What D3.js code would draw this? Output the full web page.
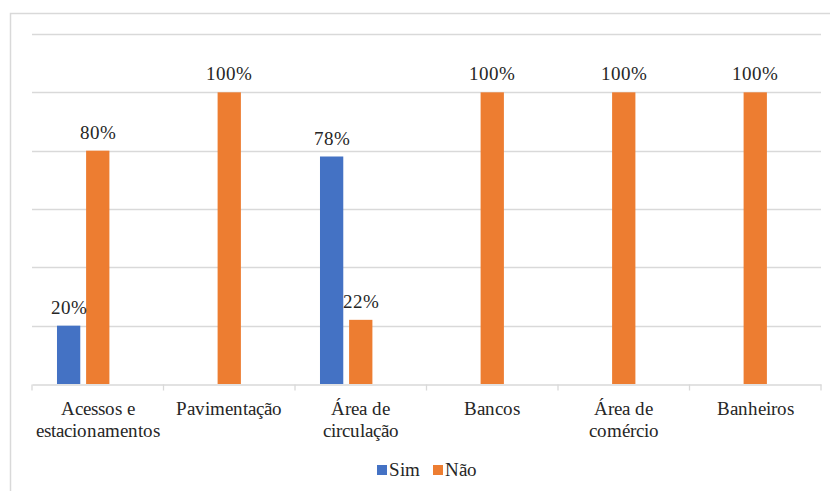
<!DOCTYPE html>
<html>
<head>
<meta charset="utf-8">
<script src="https://cdn.jsdelivr.net/npm/d3@7"></script>
<style>
  @font-face { font-family: "RefSerif"; src: local("Liberation Serif"), local("LiberationSerif"), local("Liberation Serif Regular"), local("LiberationSerif-Regular"); }
</style>
</head>
<body style="margin:0">
<svg id="s" width="830" height="491"></svg>
<script>
const categories = [
  ["Acessos e", "estacionamentos"],
  ["Pavimentação"],
  ["Área de", "circulação"],
  ["Bancos"],
  ["Área de", "comércio"],
  ["Banheiros"]
];
const seriesNames = ["Sim", "Não"];
const simValues = [20, 0, 78, 0, 0, 0];
const naoValues = [80, 100, 22, 100, 100, 100];
const yTicks = [0, 20, 40, 60, 80, 100, 120];
const colors = ["#4472C4", "#ED7D31"];
const FONT = "RefSerif, 'Liberation Serif', serif";
const TXT = "#262626";

const svg = d3.select("#s");
const W = 830, H = 491;
const plot = { left: 32, right: 821, top: 34, bottom: 384 };

// outer border
svg.append("rect")
  .attr("x", 10.5).attr("y", 13.5)
  .attr("width", W).attr("height", H)
  .attr("fill", "none").attr("stroke", "#d9d9d9").attr("stroke-width", 1.5);

const catKeys = categories.map((c, i) => i);
const x0 = d3.scaleBand().domain(catKeys).range([plot.left, plot.right]).padding(0);
const bw = x0.bandwidth();
const x1 = d3.scaleBand().domain(["Sim", "Não", "_"]).range([bw * 0.19, bw * 0.81]).paddingInner(0.2);
const y = d3.scaleLinear().domain([0, 120]).range([plot.bottom, plot.top]);

// gridlines
svg.append("g").selectAll("line")
  .data(yTicks.filter(t => t > 0))
  .join("line")
  .attr("x1", plot.left).attr("x2", plot.right)
  .attr("y1", d => Math.round(y(d)) + 0.5).attr("y2", d => Math.round(y(d)) + 0.5)
  .attr("stroke", "#d9d9d9").attr("stroke-width", 1.3);

// x axis line + separator ticks
const gx = svg.append("g").attr("transform", `translate(0,${plot.bottom + 0.5})`)
  .call(d3.axisBottom(x0).tickSize(0).tickFormat(""));
gx.select(".domain").attr("stroke", "#d9d9d9").attr("stroke-width", 1.3);
gx.selectAll(".tick").remove();
const boundaries = catKeys.map(k => x0(k)).concat([plot.right]);
gx.selectAll("line.sep").data(boundaries).join("line")
  .attr("class", "sep")
  .attr("x1", d => d).attr("x2", d => d)
  .attr("y1", 0).attr("y2", 6)
  .attr("stroke", "#d9d9d9").attr("stroke-width", 1.3);

// bars
const data = [];
catKeys.forEach(i => {
  data.push({ cat: i, s: "Sim", v: simValues[i], c: colors[0] });
  data.push({ cat: i, s: "Não", v: naoValues[i], c: colors[1] });
});
const barData = data.filter(d => d.v > 0);
svg.append("g").selectAll("rect")
  .data(barData)
  .join("rect")
  .attr("x", d => x0(d.cat) + x1(d.s))
  .attr("width", x1.bandwidth())
  .attr("y", d => y(d.v))
  .attr("height", d => y(0) - y(d.v))
  .attr("fill", d => d.c);

// value labels
barData.forEach(d => {
  svg.append("text")
    .attr("x", x0(d.cat) + x1(d.s) + x1.bandwidth() / 2)
    .attr("y", y(d.v) - 12)
    .attr("text-anchor", "middle")
    .attr("font-size", 19)
    .attr("font-family", FONT)
    .attr("fill", TXT)
    .text(d.v + "%");
});

// category labels (one text element per line)
catKeys.forEach(k => {
  categories[k].forEach((line, j) => {
    svg.append("text")
      .attr("x", x0(k) + bw / 2)
      .attr("y", 415 + j * 22)
      .attr("text-anchor", "middle")
      .attr("font-size", 19)
      .attr("font-family", FONT)
      .attr("fill", TXT)
      .text(line);
  });
});

// legend
const legendPos = [377, 433];
seriesNames.forEach((s, i) => {
  svg.append("rect")
    .attr("x", legendPos[i]).attr("y", 465)
    .attr("width", 10).attr("height", 10)
    .attr("fill", colors[i]);
  svg.append("text")
    .attr("x", legendPos[i] + 12).attr("y", 476)
    .attr("font-size", 19)
    .attr("font-family", FONT)
    .attr("fill", TXT)
    .text(s);
});
</script>
</body>
</html>
